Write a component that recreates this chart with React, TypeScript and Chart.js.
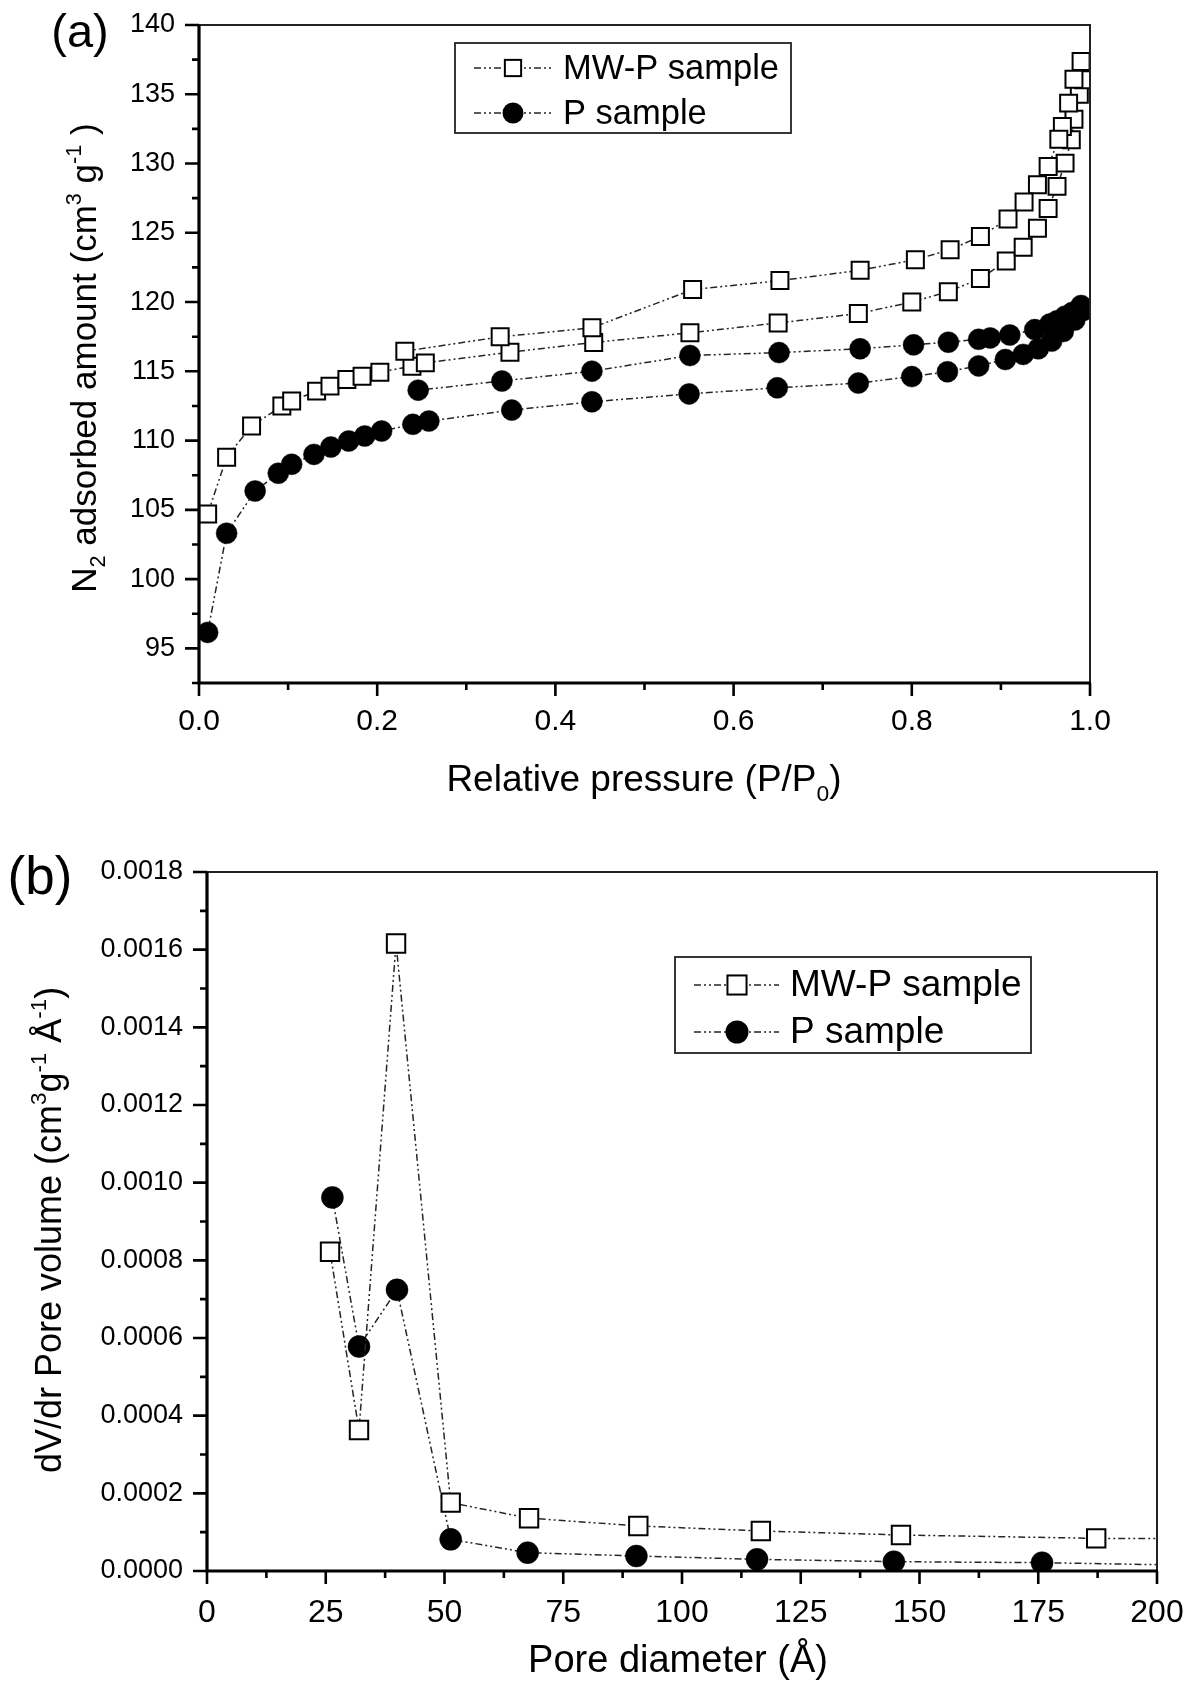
import React, { useEffect, useRef } from 'react';
import { Chart, registerables } from 'chart.js';

Chart.register(...registerables);

const FONT = '"Liberation Sans", Arial, Helvetica, sans-serif';

// ---------- (a) N2 isotherms ----------
const mwpAdsPressure = [0.0097, 0.031, 0.059, 0.093, 0.104, 0.132, 0.147, 0.166, 0.183, 0.203, 0.239, 0.254, 0.349, 0.443, 0.551, 0.650, 0.740, 0.800, 0.841, 0.877, 0.906, 0.925, 0.941, 0.953, 0.963, 0.972, 0.979, 0.982, 0.988, 0.993];
const mwpAdsVolume = [104.7, 108.8, 111.05, 112.5, 112.85, 113.57, 113.93, 114.41, 114.65, 114.94, 115.37, 115.61, 116.38, 117.08, 117.78, 118.49, 119.17, 120.0, 120.75, 121.7, 122.96, 123.96, 125.33, 126.75, 128.35, 130.03, 131.71, 133.2, 135.0, 136.04];
const mwpDesPressure = [0.990, 0.982, 0.976, 0.969, 0.965, 0.953, 0.941, 0.926, 0.908, 0.877, 0.843, 0.804, 0.742, 0.652, 0.554, 0.441, 0.338, 0.231];
const mwpDesVolume = [137.36, 136.08, 134.36, 132.67, 131.76, 129.79, 128.47, 127.22, 126.0, 124.74, 123.78, 123.06, 122.29, 121.55, 120.9, 118.14, 117.49, 116.45];

const pAdsPressure = [0.0097, 0.031, 0.063, 0.089, 0.104, 0.129, 0.148, 0.168, 0.186, 0.205, 0.240, 0.258, 0.351, 0.441, 0.550, 0.649, 0.740, 0.800, 0.840, 0.875, 0.905, 0.925, 0.942, 0.957, 0.970, 0.983, 0.993];
const pAdsVolume = [96.15, 103.31, 106.36, 107.64, 108.29, 109.0, 109.53, 109.97, 110.33, 110.69, 111.17, 111.41, 112.2, 112.8, 113.37, 113.81, 114.15, 114.62, 114.97, 115.39, 115.85, 116.22, 116.63, 117.18, 117.87, 118.7, 119.4];
const pDesPressure = [0.990, 0.980, 0.972, 0.963, 0.955, 0.938, 0.910, 0.888, 0.875, 0.841, 0.802, 0.742, 0.651, 0.551, 0.441, 0.340, 0.246];
const pDesVolume = [119.75, 119.25, 118.98, 118.65, 118.42, 118.01, 117.62, 117.41, 117.31, 117.1, 116.91, 116.63, 116.35, 116.14, 115.01, 114.3, 113.64];

const isoXMajor = [0, 0.2, 0.4, 0.6, 0.8, 1.0];
const isoXMinor = [0.1, 0.3, 0.5, 0.7, 0.9];
const isoYMajor = [95, 100, 105, 110, 115, 120, 125, 130, 135, 140];
const isoYMinor = [92.5, 97.5, 102.5, 107.5, 112.5, 117.5, 122.5, 127.5, 132.5, 137.5];

// ---------- (b) pore size distribution ----------
const mwpPoreDiameter = [25.9, 32.0, 39.8, 51.3, 67.8, 90.8, 116.6, 146.1, 187.2, 240];
const mwpPoreVolume = [0.000822, 0.000363, 0.001616, 0.000176, 0.000136, 0.000116, 0.000103, 0.0000927, 0.0000841, 0.000082];
const pPoreDiameter = [26.4, 32.0, 40.0, 51.3, 67.5, 90.4, 115.8, 144.6, 175.8, 230];
const pPoreVolume = [0.000962, 0.000578, 0.000724, 0.0000815, 0.0000472, 0.0000386, 0.000030, 0.000024, 0.0000214, 0.000010];

const poreXMajor = [0, 25, 50, 75, 100, 125, 150, 175, 200];
const poreXMinor = [12.5, 37.5, 62.5, 87.5, 112.5, 137.5, 162.5, 187.5];
const poreYMajor = [0, 0.0002, 0.0004, 0.0006, 0.0008, 0.001, 0.0012, 0.0014, 0.0016, 0.0018];
const poreYMinor = [0.0001, 0.0003, 0.0005, 0.0007, 0.0009, 0.0011, 0.0013, 0.0015, 0.0017];

const seriesLabels = ['MW-P sample', 'P sample'];

type Seg = { t: string; s?: 'sub' | 'sup' };
const isoXTitle: Seg[] = [{ t: 'Relative pressure (P/P' }, { t: '0', s: 'sub' }, { t: ')' }];
const isoYTitle: Seg[] = [{ t: 'N' }, { t: '2', s: 'sub' }, { t: ' adsorbed amount (cm' }, { t: '3', s: 'sup' }, { t: ' g' }, { t: '-1', s: 'sup' }, { t: ' )' }];
const poreXTitle: Seg[] = [{ t: 'Pore diameter (Å)' }];
const poreYTitle: Seg[] = [{ t: 'dV/dr Pore volume (cm' }, { t: '3', s: 'sup' }, { t: 'g' }, { t: '-1', s: 'sup' }, { t: ' Å' }, { t: '-1', s: 'sup' }, { t: ')' }];

const LINE_DASH = [7, 3, 2, 3, 2, 3];
const LINE_COLOR = '#262626';

function drawRich(ctx: CanvasRenderingContext2D, segs: Seg[], x: number, y: number, size: number, rotate: boolean) {
  ctx.save();
  ctx.translate(x, y);
  if (rotate) ctx.rotate(-Math.PI / 2);
  let total = 0;
  const parts = segs.map((s) => {
    const fs = s.s ? size * 0.62 : size;
    ctx.font = `${fs}px ${FONT}`;
    const w = ctx.measureText(s.t).width;
    total += w;
    return { ...s, fs, w };
  });
  let cx = -total / 2;
  ctx.textAlign = 'left';
  ctx.textBaseline = 'alphabetic';
  ctx.fillStyle = '#000';
  for (const p of parts) {
    ctx.font = `${p.fs}px ${FONT}`;
    const dy = p.s === 'sub' ? size * 0.26 : p.s === 'sup' ? -size * 0.42 : 0;
    ctx.fillText(p.t, cx, dy);
    cx += p.w;
  }
  ctx.restore();
}

type DecorCfg = {
  xMajor: number[]; xMinor: number[]; yMajor: number[]; yMinor: number[];
  xTitle: Seg[]; xTitlePos: [number, number]; xTitleSize: number;
  yTitle: Seg[]; yTitlePos: [number, number]; yTitleSize: number;
  panel: string; panelPos: [number, number]; panelSize: number;
  legend: { box: [number, number, number, number]; rows: number[]; lineX: [number, number]; markX: number; textX: number; size: number; rectR: number; circR: number };
};

function makeDecor(cfg: DecorCfg) {
  return {
    id: 'decor',
    afterDraw(chart: any) {
      const ctx: CanvasRenderingContext2D = chart.ctx;
      const a = chart.chartArea;
      const xs = chart.scales.x;
      const ys = chart.scales.y;
      ctx.save();
      // thin top / right frame
      ctx.strokeStyle = '#222';
      ctx.lineWidth = 2;
      ctx.beginPath();
      ctx.moveTo(a.left, a.top);
      ctx.lineTo(a.right, a.top);
      ctx.lineTo(a.right, a.bottom);
      ctx.stroke();
      // ticks
      ctx.strokeStyle = '#000';
      ctx.lineWidth = 2.6;
      ctx.beginPath();
      for (const v of cfg.xMajor) { const p = xs.getPixelForValue(v); ctx.moveTo(p, a.bottom); ctx.lineTo(p, a.bottom + 13); }
      for (const v of cfg.xMinor) { const p = xs.getPixelForValue(v); ctx.moveTo(p, a.bottom); ctx.lineTo(p, a.bottom + 7); }
      for (const v of cfg.yMajor) { const p = ys.getPixelForValue(v); ctx.moveTo(a.left, p); ctx.lineTo(a.left - 14, p); }
      for (const v of cfg.yMinor) { const p = ys.getPixelForValue(v); ctx.moveTo(a.left, p); ctx.lineTo(a.left - 7, p); }
      ctx.stroke();
      // thick left / bottom axes
      ctx.lineWidth = 3.2;
      ctx.beginPath();
      ctx.moveTo(a.left, a.top);
      ctx.lineTo(a.left, a.bottom);
      ctx.lineTo(a.right + 1, a.bottom);
      ctx.stroke();
      // titles
      drawRich(ctx, cfg.xTitle, cfg.xTitlePos[0], cfg.xTitlePos[1], cfg.xTitleSize, false);
      drawRich(ctx, cfg.yTitle, cfg.yTitlePos[0], cfg.yTitlePos[1], cfg.yTitleSize, true);
      // panel label
      ctx.font = `${cfg.panelSize}px ${FONT}`;
      ctx.fillStyle = '#000';
      ctx.textAlign = 'center';
      ctx.textBaseline = 'alphabetic';
      ctx.fillText(cfg.panel, cfg.panelPos[0], cfg.panelPos[1]);
      // legend
      const L = cfg.legend;
      const [bx, by, bw, bh] = L.box;
      ctx.fillStyle = '#fff';
      ctx.fillRect(bx, by, bw, bh);
      ctx.strokeStyle = '#222';
      ctx.lineWidth = 1.8;
      ctx.strokeRect(bx, by, bw, bh);
      chart.data.datasets.forEach((ds: any, i: number) => {
        const y = L.rows[i];
        ctx.save();
        ctx.strokeStyle = LINE_COLOR;
        ctx.lineWidth = 1.5;
        ctx.setLineDash(LINE_DASH);
        ctx.beginPath();
        ctx.moveTo(L.lineX[0], y);
        ctx.lineTo(L.lineX[1], y);
        ctx.stroke();
        ctx.restore();
        ctx.save();
        ctx.lineWidth = 2;
        ctx.strokeStyle = '#000';
        if (ds.pointStyle === 'rect') {
          const s = L.rectR * Math.SQRT1_2;
          ctx.fillStyle = '#fff';
          ctx.fillRect(L.markX - s, y - s, 2 * s, 2 * s);
          ctx.strokeRect(L.markX - s, y - s, 2 * s, 2 * s);
        } else {
          ctx.fillStyle = '#000';
          ctx.beginPath();
          ctx.arc(L.markX, y, L.circR, 0, Math.PI * 2);
          ctx.fill();
        }
        ctx.restore();
        ctx.fillStyle = '#000';
        ctx.font = `${L.size}px ${FONT}`;
        ctx.textAlign = 'left';
        ctx.textBaseline = 'middle';
        ctx.fillText(ds.label, L.textX, y + 1);
      });
      ctx.restore();
    },
  };
}

function pairs(xs: number[], ys: number[]) {
  return xs.map((x, i) => ({ x, y: ys[i] }));
}

function dataset(label: string, data: { x: number; y: number }[], square: boolean, r: number) {
  return {
    label,
    data,
    showLine: true,
    borderColor: LINE_COLOR,
    borderWidth: 1.5,
    borderDash: LINE_DASH,
    tension: 0,
    pointStyle: square ? 'rect' : 'circle',
    pointRadius: r,
    pointHoverRadius: r,
    pointBackgroundColor: square ? '#fff' : '#000',
    pointBorderColor: '#000',
    pointBorderWidth: square ? 2 : 0.5,
  };
}

function axisOpts(min: number, max: number, major: number[], fontSize: number, padding: number, fmt: (v: number) => string, fitSize: number, horizontal: boolean) {
  return {
    type: 'linear',
    min,
    max,
    position: horizontal ? 'bottom' : 'left',
    grid: { display: false, drawTicks: false },
    border: { display: false },
    afterBuildTicks: (scale: any) => { scale.ticks = major.map((v) => ({ value: v })); },
    afterFit: (scale: any) => {
      if (horizontal) scale.height = fitSize; else scale.width = fitSize;
      scale.paddingTop = 0;
      scale.paddingBottom = 0;
      scale.paddingLeft = 0;
      scale.paddingRight = 0;
    },
    ticks: {
      color: '#000',
      font: { family: FONT, size: fontSize },
      padding,
      maxRotation: 0,
      autoSkip: false,
      callback: (v: any) => fmt(Number(v)),
    },
  };
}

function configA(): any {
  return {
    type: 'scatter',
    data: {
      datasets: [
        dataset(seriesLabels[0], pairs([...mwpAdsPressure, ...mwpDesPressure], [...mwpAdsVolume, ...mwpDesVolume]), true, 12),
        dataset(seriesLabels[1], pairs([...pAdsPressure, ...pDesPressure], [...pAdsVolume, ...pDesVolume]), false, 10.5),
      ],
    },
    options: {
      responsive: false,
      animation: false,
      devicePixelRatio: 1,
      layout: { padding: { left: 0, right: 110, top: 25, bottom: 0 } },
      plugins: { legend: { display: false }, tooltip: { enabled: false } },
      scales: {
        x: axisOpts(0, 1, isoXMajor, 30, 21, (v) => v.toFixed(1), 147, true),
        y: axisOpts(92.5, 140, isoYMajor, 27, 24, (v) => String(v), 199, false),
      },
    },
    plugins: [makeDecor({
      xMajor: isoXMajor, xMinor: isoXMinor, yMajor: isoYMajor, yMinor: isoYMinor,
      xTitle: isoXTitle, xTitlePos: [644, 791], xTitleSize: 37,
      yTitle: isoYTitle, yTitlePos: [96, 358], yTitleSize: 35,
      panel: '(a)', panelPos: [80, 47], panelSize: 47,
      legend: { box: [455, 43, 336, 90], rows: [68, 113], lineX: [474, 551], markX: 513, textX: 563, size: 34.5, rectR: 11.5, circR: 10.5 },
    })],
  };
}

function configB(): any {
  return {
    type: 'scatter',
    data: {
      datasets: [
        dataset(seriesLabels[0], pairs(mwpPoreDiameter, mwpPoreVolume), true, 13),
        dataset(seriesLabels[1], pairs(pPoreDiameter, pPoreVolume), false, 11),
      ],
    },
    options: {
      responsive: false,
      animation: false,
      devicePixelRatio: 1,
      layout: { padding: { left: 0, right: 43, top: 42, bottom: 0 } },
      plugins: { legend: { display: false }, tooltip: { enabled: false } },
      scales: {
        x: axisOpts(0, 200, poreXMajor, 32, 23, (v) => String(v), 112, true),
        y: axisOpts(0, 0.0018, poreYMajor, 27, 24, (v) => v.toFixed(4), 207, false),
      },
    },
    plugins: [makeDecor({
      xMajor: poreXMajor, xMinor: poreXMinor, yMajor: poreYMajor, yMinor: poreYMinor,
      xTitle: poreXTitle, xTitlePos: [678, 1672 - 830], xTitleSize: 38,
      yTitle: poreYTitle, yTitlePos: [61, 1230 - 830], yTitleSize: 36,
      panel: '(b)', panelPos: [40, 894 - 830], panelSize: 53,
      legend: { box: [675, 957 - 830, 356, 96], rows: [985 - 830, 1032 - 830], lineX: [694, 779], markX: 737, textX: 790, size: 37, rectR: 13.5, circR: 11.5 },
    })],
  };
}

export default function App() {
  const refA = useRef<HTMLCanvasElement>(null);
  const refB = useRef<HTMLCanvasElement>(null);
  useEffect(() => {
    const a = new Chart(refA.current as HTMLCanvasElement, configA());
    const b = new Chart(refB.current as HTMLCanvasElement, configB());
    return () => { a.destroy(); b.destroy(); };
  }, []);
  return (
    <div style={{ position: 'absolute', left: 0, top: 0, width: 1200, height: 1683, background: '#fff' }}>
      <canvas ref={refA} width={1200} height={830} style={{ position: 'absolute', left: 0, top: 0, width: 1200, height: 830 }} />
      <canvas ref={refB} width={1200} height={853} style={{ position: 'absolute', left: 0, top: 830, width: 1200, height: 853 }} />
    </div>
  );
}
